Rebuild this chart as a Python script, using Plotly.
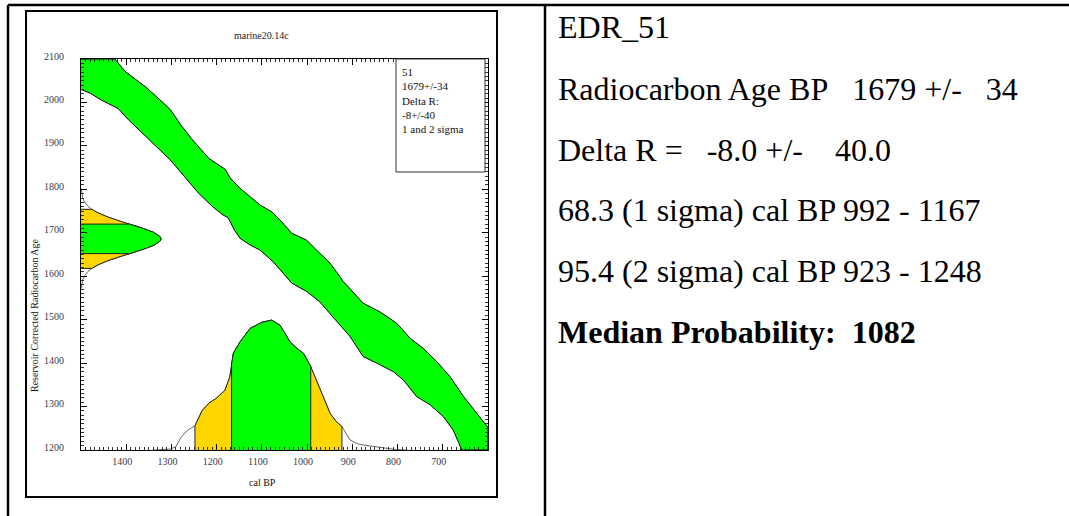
import plotly.graph_objects as go

# ---------------- data ----------------
X_RANGE = [1500, 600]          # cal BP (reversed)
Y_RANGE = [1200, 2100]         # reservoir corrected radiocarbon age
X_TICKS = [1400, 1300, 1200, 1100, 1000, 900, 800, 700]
Y_TICKS = [1200, 1300, 1400, 1500, 1600, 1700, 1800, 1900, 2000, 2100]

# calibration curve band (upper / lower edge), cal BP vs age
band_upper_cal = [1425, 1402, 1356, 1317, 1302, 1279, 1256, 1217, 1194, 1181, 1170, 1148, 1126,
                  1104, 1078, 1056, 1034, 1001, 979, 949, 920, 876, 839, 802, 772, 743, 713,
                  684, 654, 625, 600]
band_upper_age = [2100, 2071, 2035, 1998, 1983, 1948, 1917, 1871, 1856, 1846, 1826, 1802, 1783,
                  1764, 1748, 1725, 1699, 1683, 1660, 1630, 1588, 1538, 1518, 1492, 1457, 1434, 1403,
                  1369, 1323, 1285, 1252]
band_lower_cal = [1500, 1479, 1456, 1418, 1395, 1356, 1325, 1302, 1271, 1240, 1209, 1186, 1175,
                  1160, 1148, 1126, 1104, 1075, 1053, 1034, 1001, 972, 949, 927, 905, 876, 846,
                  809, 787, 758, 728, 699, 677, 658]
band_lower_age = [2030, 2021, 2006, 1986, 1960, 1921, 1890, 1867, 1829, 1791, 1760, 1741, 1735,
                  1705, 1687, 1672, 1660, 1633, 1607, 1584, 1565, 1541, 1515, 1488, 1461, 1415, 1400,
                  1380, 1361, 1323, 1304, 1277, 1246, 1200]

# calibrated probability distribution (relative), cal BP
cal_bp = [1340, 1320, 1302, 1290, 1279, 1265, 1248, 1232, 1217, 1202, 1182, 1171, 1167, 1163,
          1148, 1126, 1100, 1078, 1060, 1049, 1038, 1023, 1008, 992, 982, 971, 960, 949, 936,
          923, 905, 890, 876, 839, 802, 780]
cal_prob = [0.0, 0.003, 0.007, 0.027, 0.097, 0.15, 0.187, 0.304, 0.361, 0.395, 0.458, 0.562,
            0.665, 0.745, 0.834, 0.936, 0.983, 1.0, 0.96, 0.9, 0.833, 0.783, 0.744, 0.642, 0.56,
            0.462, 0.37, 0.282, 0.221, 0.181, 0.077, 0.05, 0.038, 0.02, 0.003, 0.0]
CAL_1SIGMA = (992, 1167)
CAL_2SIGMA = (923, 1248)

# radiocarbon age distribution (relative)
rc_age = [1801, 1791, 1781, 1771, 1761, 1754, 1746, 1736, 1726, 1720, 1711, 1701, 1691, 1686,
          1681, 1671, 1661, 1652, 1646, 1636, 1626, 1618, 1611, 1601, 1591, 1581, 1571]
rc_prob = [0.0033, 0.0085, 0.020, 0.044, 0.088, 0.135, 0.211, 0.339, 0.50, 0.607, 0.763, 0.907,
           0.989, 1.0, 0.989, 0.907, 0.763, 0.607, 0.50, 0.339, 0.211, 0.135, 0.088, 0.044,
           0.020, 0.0085, 0.0033]
RC_1SIGMA = (1652, 1720)
RC_2SIGMA = (1618, 1754)

title_text = "marine20.14c"
x_title = "cal BP"
y_title = "Reservoir Corrected Radiocarbon Age"
legend_lines = ["51", "1679+/-34", "Delta R:", "-8+/-40", "1 and 2 sigma"]

NB = "\u00a0"
info_lines = [
    "EDR_51",
    "Radiocarbon Age BP" + NB * 3 + "1679 +/-" + NB * 3 + "34",
    "Delta R =" + NB * 3 + "-8.0 +/-" + NB * 4 + "40.0",
    "68.3 (1 sigma) cal BP 992 - 1167",
    "95.4 (2 sigma) cal BP 923 - 1248",
    "<b>Median Probability:" + NB * 2 + "1082</b>",
]

# ---------------- styling / layout helpers ----------------
W, H = 1069, 516
PL, PR, PT, PB = 81, 488, 59, 450     # plot area in pixels
GREEN = "#00ff00"
YELLOW = "#ffd700"
SERIF = "Liberation Serif"
CAL_PEAK = 299      # display height of calibrated distribution (age units)
RC_PEAK = 177       # display width of radiocarbon distribution (cal BP units)


def px(x):
    return (x - PL) / (PR - PL)


def py(y):
    return (PB - y) / (PB - PT)


fig = go.Figure()

# calibration band
bx = [X_RANGE[0]] + band_upper_cal + [X_RANGE[1]] + band_lower_cal[::-1]
by = [Y_RANGE[1]] + band_upper_age + [Y_RANGE[0]] + band_lower_age[::-1]
fig.add_trace(go.Scatter(x=bx, y=by, fill="toself", fillcolor=GREEN, mode="lines",
                         line=dict(color="black", width=1), hoverinfo="skip"))

# calibrated distribution
cal_y = [Y_RANGE[0] + p * CAL_PEAK for p in cal_prob]
fig.add_trace(go.Scatter(x=cal_bp, y=cal_y, mode="lines",
                         line=dict(color="#666666", width=1), hoverinfo="skip"))


def cal_region(lo, hi, color):
    xs = [c for c in cal_bp if lo <= c <= hi]
    ys = [Y_RANGE[0] + p * CAL_PEAK for c, p in zip(cal_bp, cal_prob) if lo <= c <= hi]
    xs = [xs[0]] + xs + [xs[-1]]
    ys = [Y_RANGE[0]] + ys + [Y_RANGE[0]]
    fig.add_trace(go.Scatter(x=xs, y=ys, fill="toself", fillcolor=color, mode="lines",
                             line=dict(color="#222222", width=1), hoverinfo="skip"))


cal_region(CAL_2SIGMA[0], CAL_2SIGMA[1], YELLOW)
cal_region(CAL_1SIGMA[0], CAL_1SIGMA[1], GREEN)

# radiocarbon distribution
rc_x = [X_RANGE[0] - p * RC_PEAK for p in rc_prob]
fig.add_trace(go.Scatter(x=rc_x, y=rc_age, mode="lines",
                         line=dict(color="#666666", width=1), hoverinfo="skip"))


def rc_region(lo, hi, color):
    ys = [a for a in rc_age if lo <= a <= hi]
    xs = [X_RANGE[0] - p * RC_PEAK for a, p in zip(rc_age, rc_prob) if lo <= a <= hi]
    ys = [ys[0]] + ys + [ys[-1]]
    xs = [X_RANGE[0]] + xs + [X_RANGE[0]]
    fig.add_trace(go.Scatter(x=xs, y=ys, fill="toself", fillcolor=color, mode="lines",
                             line=dict(color="#222222", width=1), hoverinfo="skip"))


rc_region(RC_2SIGMA[0], RC_2SIGMA[1], YELLOW)
rc_region(RC_1SIGMA[0], RC_1SIGMA[1], GREEN)

axis_common = dict(showgrid=False, zeroline=False, showline=True, linecolor="black",
                   linewidth=1, mirror="allticks", ticks="inside", ticklen=6,
                   tickcolor="black", tickwidth=1,
                   tickfont=dict(family=SERIF, size=10, color="#3a3a4a"),
                   minor=dict(ticks="inside", ticklen=3, dtick=10, tickcolor="#333333",
                              tickwidth=1, showgrid=False))

fig.update_xaxes(range=X_RANGE, tickvals=X_TICKS, ticklabelshift=4, ticklabelstandoff=2,
                 **axis_common)
fig.update_yaxes(range=Y_RANGE, tickvals=Y_TICKS, ticklabelstandoff=14, ticklabelshift=-3,
                 **axis_common)

shapes = []
LW = 2.5
# table borders
shapes.append(dict(type="line", xref="paper", yref="paper", x0=px(8), x1=px(1080),
                   y0=py(5), y1=py(5), line=dict(color="black", width=LW)))
shapes.append(dict(type="line", xref="paper", yref="paper", x0=px(8), x1=px(8),
                   y0=py(5), y1=py(530), line=dict(color="black", width=LW)))
shapes.append(dict(type="line", xref="paper", yref="paper", x0=px(545), x1=px(545),
                   y0=py(5), y1=py(530), line=dict(color="black", width=LW)))
# chart frame
shapes.append(dict(type="rect", xref="paper", yref="paper", x0=px(26), x1=px(497),
                   y0=py(497), y1=py(11), line=dict(color="black", width=2)))
# legend box
shapes.append(dict(type="rect", xref="paper", yref="paper", x0=px(396), x1=px(485),
                   y0=py(172), y1=py(PT), line=dict(color="#333333", width=1),
                   fillcolor="white", layer="above"))

ann = []
ann.append(dict(text=title_text, x=px(261), y=py(28), xref="paper", yref="paper",
                showarrow=False, font=dict(family=SERIF, size=10, color="#222222")))
ann.append(dict(text=x_title, x=px(262), y=py(490), xref="paper", yref="paper",
                showarrow=False, font=dict(family=SERIF, size=10, color="#111111")))
ann.append(dict(text=y_title, x=px(34), y=py(315), xref="paper", yref="paper",
                xanchor="center", yanchor="middle", showarrow=False, textangle=-90,
                font=dict(family=SERIF, size=10, color="#111111")))
ann.append(dict(text="<br>".join(legend_lines), x=px(400), y=py(64), xref="paper",
                yref="paper", xanchor="left", yanchor="top", align="left", showarrow=False,
                font=dict(family=SERIF, size=11, color="#111111")))
info_y = [27, 89, 150, 210, 271, 332]
for t, yy in zip(info_lines, info_y):
    ann.append(dict(text=t, x=px(556), y=py(yy), xref="paper", yref="paper",
                    xanchor="left", yanchor="middle", showarrow=False,
                    font=dict(family=SERIF, size=32, color="black")))

fig.update_layout(width=W, height=H, margin=dict(l=PL, r=W - PR, t=PT, b=H - PB),
                  paper_bgcolor="white", plot_bgcolor="white", showlegend=False,
                  shapes=shapes, annotations=ann)

fig.write_html("out.html", config={"displayModeBar": False},
               post_script="document.body.style.margin='0';document.body.style.overflow='hidden';")
